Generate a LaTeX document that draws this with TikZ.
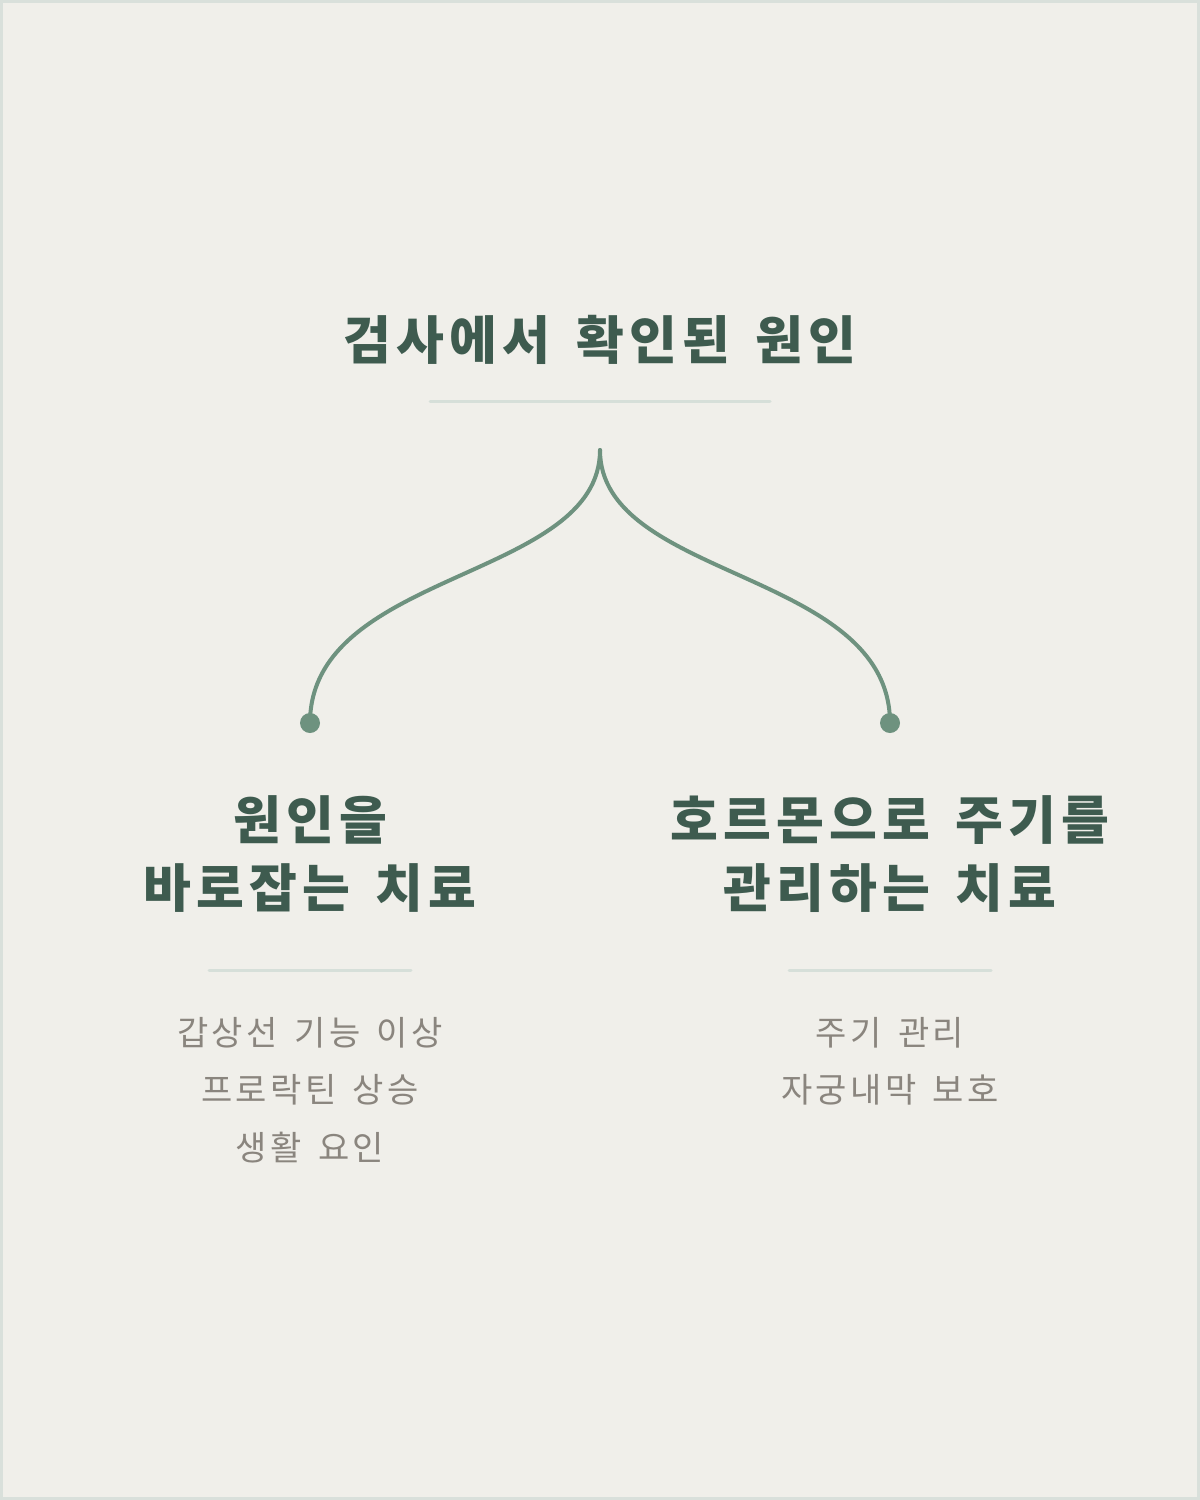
\documentclass[tikz,border=0pt]{standalone}
\usepackage{fontspec}
\newfontfamily\cjk[LetterSpace=10,WordSpace=1.5]{Noto Sans CJK KR}
\definecolor{paper}{HTML}{F0EFEA}
\definecolor{frame}{HTML}{D9E0DB}
\definecolor{ink}{HTML}{3E5B4F}
\definecolor{branch}{HTML}{6E927F}
\definecolor{rule}{HTML}{D6DFD9}
\definecolor{note}{HTML}{8A857E}
\begin{document}
\begin{tikzpicture}[
  x = 0.5pt, y = -0.5pt,
  heading/.style={text=ink, font={\cjk\bfseries\fontsize{26}{34}\selectfont}, align=center, inner sep=0},
  listing/.style={text=note, font={\cjk\fontsize{17}{28.75}\selectfont}, align=center, inner sep=0},
  divider/.style={draw=rule, line width=1.5pt, line cap=round},
  branchline/.style={draw=branch, line width=2pt, line cap=round},
  tip/.style={fill=branch}
]
%general params
\def\dotr{10} %dot radius

%background
\useasboundingbox (0,0) rectangle (1200,1500);
\fill[frame] (0,0) rectangle (1200,1500);
\fill[paper] (3,3) rectangle (1197,1497);

%title
\node[heading] (title) at (600,340) {검사에서 확인된 원인};
\coordinate (titleL) at (430,401);
\coordinate (titleR) at (770,401);
\draw[divider] (titleL) -- (titleR);

%branches
\coordinate (root) at (600,450);
\coordinate (leftdot) at (310,723);
\coordinate (rightdot) at (890,723);
\draw[branchline] (root) .. controls (600,580) and (310,570) .. (leftdot);
\draw[branchline] (root) .. controls (600,580) and (890,570) .. (rightdot);
\fill[tip] (leftdot) circle (\dotr);
\fill[tip] (rightdot) circle (\dotr);

%left
\node[heading] (lefthead) at (310,854) {원인을\\바로잡는 치료};
\coordinate (leftruleL) at (209,970);
\coordinate (leftruleR) at (411,970);
\draw[divider] (leftruleL) -- (leftruleR);
\node[listing] (leftlist) at (310,1090) {갑상선 기능 이상\\프로락틴 상승\\생활 요인};

%right
\node[heading] (righthead) at (890,854) {호르몬으로 주기를\\관리하는 치료};
\coordinate (rightruleL) at (789,970);
\coordinate (rightruleR) at (991,970);
\draw[divider] (rightruleL) -- (rightruleR);
\node[listing] (rightlist) at (890,1061.5) {주기 관리\\자궁내막 보호};

\end{tikzpicture}
\end{document}
